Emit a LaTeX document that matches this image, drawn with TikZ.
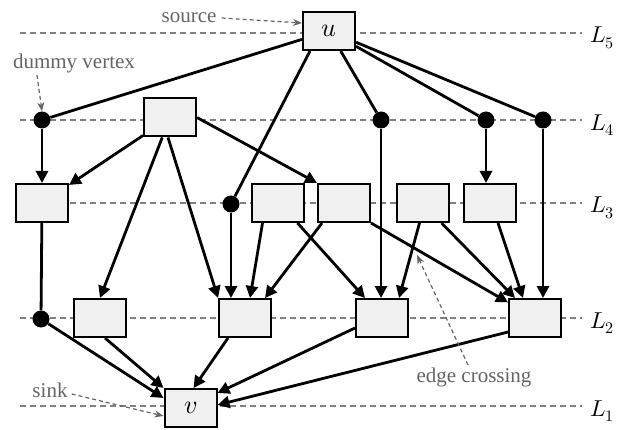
\documentclass[tikz,border=0pt]{standalone}
\usepackage{fontspec}
\usepackage{unicode-math}
\setmainfont{Liberation Serif}
\usetikzlibrary{arrows.meta,calc}
\definecolor{boxfill}{RGB}{240,240,240}
\definecolor{notegray}{RGB}{100,100,100}
\definecolor{layergray}{RGB}{128,128,128}

\begin{document}
\begin{tikzpicture}[x=1pt,y=-1pt,
  vbox/.style={draw=black,line width=2pt,fill=boxfill,minimum width=52pt,
    minimum height=38pt,inner sep=0pt,font=\fontsize{26}{28}\selectfont},
  dummy/.style={circle,fill=black,minimum size=17pt,inner sep=0pt},
  edge/.style={line width=2.8pt},
  arc/.style={edge,-{Triangle[length=12pt,width=12pt]}},
  layerline/.style={draw=layergray,line width=1.4pt,dash pattern=on 6pt off 4pt},
  note/.style={text=notegray,font=\fontsize{21}{24}\selectfont,inner sep=0pt},
  pointer/.style={draw=notegray,line width=1.2pt,dash pattern=on 4pt off 3pt,
    -{Stealth[length=9pt,width=7pt]}},
  layerlabel/.style={anchor=west,inner sep=0pt,font=\fontsize{23}{26}\selectfont}]

\useasboundingbox (0,0) rectangle (623,430);

% layer guide lines and their labels
\draw[layerline] (20,33) -- (582,33);
\draw[layerline] (20,120) -- (582,120);
\draw[layerline] (20,203) -- (582,203);
\draw[layerline] (20,318) -- (582,318);
\draw[layerline] (20,406) -- (582,406);
\node[layerlabel] (l5) at (590,38) {$L_5$};
\node[layerlabel] (l4) at (590,125) {$L_4$};
\node[layerlabel] (l3) at (590,208) {$L_3$};
\node[layerlabel] (l2) at (590,323) {$L_2$};
\node[layerlabel] (l1) at (590,411) {$L_1$};

% layer 5
\node[vbox] (u) at (329,31) {$u$};
% layer 4
\node[vbox] (b4) at (170,117.5) {};
\node[dummy] (d1) at (42,120) {};
\node[dummy] (d3) at (381,120) {};
\node[dummy] (d4) at (486,120) {};
\node[dummy] (d5) at (543,120) {};
% layer 3
\node[vbox] (b3a) at (42,203) {};
\node[dummy] (d2) at (231,204) {};
\node[vbox] (b3b) at (277.5,203) {};
\node[vbox] (b3c) at (344,203) {};
\node[vbox] (b3d) at (422.5,203) {};
\node[vbox] (b3e) at (490,203) {};
% layer 2
\node[dummy] (d6) at (41,319) {};
\node[vbox] (b2a) at (100,318) {};
\node[vbox] (b2b) at (245,318) {};
\node[vbox] (b2c) at (382,318) {};
\node[vbox] (b2d) at (535,318) {};
% layer 1
\node[vbox] (v) at (190.5,408) {$v$};

% edges leaving the source
\draw[edge] (u) -- (d1);
\draw[edge] ([xshift=-19pt]u.south) -- (d2);
\draw[edge] (u) -- (d3);
\draw[edge] (u) -- (d4);
\draw[edge] (u) -- (d5);

% layer 4 to lower layers
\draw[arc] (d1) -- (d1 |- b3a.north);
\draw[arc] (b4) -- (b3a);
\draw[arc] (b4) -- (b2a.north);
\draw[arc] ([xshift=-2pt]b4.south) -- (b2b.north west);
\draw[arc] (b4.east) -- (b3c.north west);
\draw[arc] (d3) -- (d3 |- b2c.north);
\draw[arc] (d4) -- (d4 |- b3e.north);
\draw[arc] (d5) -- (d5 |- b2d.north);

% layer 3 to layer 2
\draw[edge] (b3a) -- (d6);
\draw[arc] (d2) -- (d2 |- b2b.north);
\draw[arc] ([xshift=-15pt]b3b.south) -- ([xshift=5pt]b2b.north);
\draw[arc] ([xshift=20pt]b3b.south) -- ([xshift=-17pt]b2c.north);
\draw[arc] ([xshift=-22pt]b3c.south) -- ([xshift=20pt]b2b.north);
\draw[arc] (b3c.south east) -- (b2d);
\draw[arc] ([xshift=-3pt]b3d.south) -- ([xshift=17pt]b2c.north);
\draw[arc] ([xshift=19pt]b3d.south) -- ([xshift=-20pt]b2d.north);
\draw[arc] ([xshift=8pt]b3e.south) -- ([xshift=-12pt]b2d.north);

% layer 2 into the sink
\draw[arc] (d6) -- ([yshift=10pt]v.west);
\draw[arc] ([xshift=5pt]b2a.south) -- (v.north west);
\draw[arc] ([xshift=-17pt]b2b.south) -- ([xshift=3pt]v.north);
\draw[arc] ([yshift=-10pt]b2c.west) -- ([yshift=15pt]v.east);
\draw[arc] ([yshift=-14pt]b2d.west) -- ([yshift=3pt]v.east);

% annotations
\node[note] (src) at (189,18) {source};
\node[note] (dv) at (74,63) {dummy vertex};
\node[note] (sk) at (50,390) {sink};
\node[note] (ec) at (474,377) {edge crossing};
\coordinate (dvtail) at (37,75);
\coordinate (cross) at (417,255);
\coordinate (ectail) at (468,365);
\draw[pointer] ([xshift=5pt]src.east) -- ([yshift=8pt]u.west);
\draw[pointer] (dvtail) -- (d1.north);
\draw[pointer] ([xshift=4pt,yshift=-4pt]sk.east) -- ([yshift=-8pt]v.west);
\draw[pointer] (ectail) -- (cross);
\end{tikzpicture}
\end{document}
